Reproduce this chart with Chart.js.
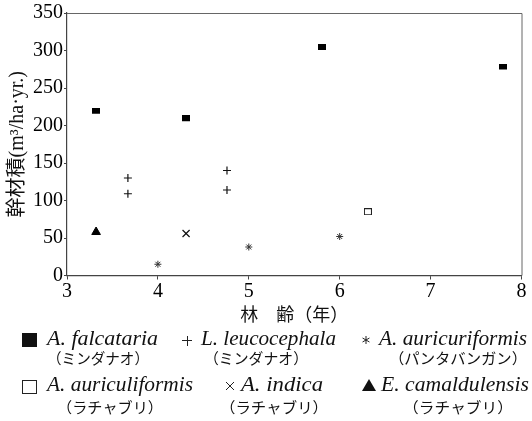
<!DOCTYPE html>
<html><head><meta charset="utf-8">
<script src="https://cdn.jsdelivr.net/npm/chart.js@4/dist/chart.umd.min.js"></script>
<style>html,body{margin:0;padding:0;background:#fff;}canvas{display:block;}</style>
</head><body>
<canvas id="c" width="532" height="421"></canvas>
<script>
// ---- data ----
const xTicks = [3, 4, 5, 6, 7, 8];
const yTicks = [0, 50, 100, 150, 200, 250, 300, 350];
const falcatariaX = [3.32, 4.31, 5.81, 7.80];
const falcatariaY = [219, 209, 304, 278];
const leucocephalaX = [3.67, 3.67, 4.76, 4.76];
const leucocephalaY = [130, 109, 140, 114];
const auricuriformisX = [4.0, 5.0, 6.0];
const auricuriformisY = [15, 38, 52];
const auriculiformisX = [6.31];
const auriculiformisY = [85];
const indicaX = [4.31];
const indicaY = [56];
const camaldulensisX = [3.32];
const camaldulensisY = [58];
const legendLatin = ['A. falcataria', 'L. leucocephala', 'A. auricuriformis', 'A. auriculiformis', 'A. indica', 'E. camaldulensis'];
const legendJa = ['（ミンダナオ）', '（ミンダナオ）', '（パンタバンガン）', '（ラチャブリ）', '（ラチャブリ）', '（ラチャブリ）'];
const xTitle = '林　齢（年）';
const yTitle = '幹材積(m³/ha·yr.)';

function pts(xs, ys) { return xs.map((x, i) => ({x: x, y: ys[i]})); }
function rectImg(filled) {
  const c = document.createElement('canvas'); c.width = 8; c.height = 7;
  const g = c.getContext('2d');
  if (filled) { g.fillStyle = '#000'; g.fillRect(0, 0, 8, 6); }
  else { g.strokeStyle = '#222'; g.lineWidth = 1; g.strokeRect(0.5, 0.5, 7, 6); }
  return c;
}

const SERIF = '"Liberation Serif", "Noto Sans CJK JP", serif';
const JA = '"Noto Sans CJK JP", sans-serif';

function fitText(ctx, text, x, y, w, align) {
  const m = ctx.measureText(text).width;
  const sx = w / m;
  ctx.save();
  ctx.translate(x, y);
  ctx.scale(sx, 1);
  ctx.textAlign = align;
  ctx.fillText(text, 0, 0);
  ctx.restore();
}

const frame = {
  id: 'frame',
  beforeDatasetsDraw(chart) {
    const a = chart.chartArea, ctx = chart.ctx;
    ctx.save(); ctx.strokeStyle = '#666'; ctx.lineWidth = 1;
    ctx.beginPath();
    ctx.moveTo(a.left, a.top + 0.5); ctx.lineTo(a.right + 0.5, a.top + 0.5); ctx.lineTo(a.right + 0.5, a.bottom);
    ctx.stroke(); ctx.restore();
  }
};

const legendPlugin = {
  id: 'customLegend',
  afterDraw(chart) {
    const ctx = chart.ctx;
    ctx.save();
    ctx.fillStyle = '#111'; ctx.strokeStyle = '#222';
    ctx.textBaseline = 'middle';
    // markers
    ctx.fillRect(22, 333, 15, 14);
    ctx.lineWidth = 1; ctx.strokeRect(22.5, 380.5, 14, 13);
    ctx.beginPath(); ctx.moveTo(369, 379); ctx.lineTo(376, 391); ctx.lineTo(362, 391); ctx.closePath(); ctx.fill();
    ctx.lineWidth = 1;
    ctx.beginPath();
    // plus
    ctx.moveTo(182, 340.5); ctx.lineTo(192, 340.5); ctx.moveTo(187.5, 336); ctx.lineTo(187.5, 346);
    // times
    ctx.moveTo(226, 382); ctx.lineTo(234, 390); ctx.moveTo(234, 382); ctx.lineTo(226, 390);
    // asterisk
    const ax = 366, ay = 340;
    for (let k = 0; k < 3; k++) {
      const t = Math.PI / 2 + k * Math.PI / 3;
      ctx.moveTo(ax + 4 * Math.cos(t), ay + 4 * Math.sin(t));
      ctx.lineTo(ax - 4 * Math.cos(t), ay - 4 * Math.sin(t));
    }
    ctx.stroke();
    // latin names
    ctx.font = 'italic 20px ' + SERIF;
    const lx = [47, 201, 379, 47, 241, 381];
    const lw = [111, 135, 148, 146, 82, 148];
    const ly = [340, 340, 340, 386, 386, 386];
    legendLatin.forEach((t, i) => fitText(ctx, t, lx[i], ly[i], lw[i], 'left'));
    ctx.font = '15px ' + JA;
    const jx = [98, 256, 458, 110, 274, 458];
    const jw = [102, 104, 138, 106, 108, 110];
    const jy = [358, 358, 358, 407, 407, 407];
    legendJa.forEach((t, i) => fitText(ctx, t, jx[i], jy[i], jw[i], 'center'));
    ctx.restore();
  }
};

new Chart(document.getElementById('c'), {
  type: 'scatter',
  data: {
    datasets: [
      {label: legendLatin[0], data: pts(falcatariaX, falcatariaY), pointStyle: rectImg(true), pointRadius: 4},
      {label: legendLatin[1], data: pts(leucocephalaX, leucocephalaY), pointStyle: 'cross', pointRadius: 4, borderColor: '#111', borderWidth: 1.2},
      {label: legendLatin[2], data: pts(auricuriformisX, auricuriformisY), pointStyle: 'star', pointRadius: 3.5, borderColor: '#333', borderWidth: 1},
      {label: legendLatin[3], data: pts(auriculiformisX, auriculiformisY), pointStyle: rectImg(false), pointRadius: 4},
      {label: legendLatin[4], data: pts(indicaX, indicaY), pointStyle: 'crossRot', pointRadius: 5, borderColor: '#111', borderWidth: 1.2},
      {label: legendLatin[5], data: pts(camaldulensisX, camaldulensisY), pointStyle: 'triangle', pointRadius: 5, backgroundColor: '#000', borderColor: '#000', borderWidth: 1}
    ]
  },
  options: {
    responsive: false,
    animation: false,
    devicePixelRatio: 1,
    layout: {padding: {left: 0, right: 10.5, top: 13, bottom: 0}},
    plugins: {legend: {display: false}, tooltip: {enabled: false}},
    scales: {
      x: {
        type: 'linear', min: 3, max: 8,
        afterFit(s) { s.height = 145.5; },
        afterBuildTicks(s) { s.ticks = xTicks.map(v => ({value: v})); },
        ticks: {color: '#000', font: {family: SERIF, size: 20}, padding: 0, maxRotation: 0},
        grid: {display: true, drawOnChartArea: false, tickLength: 4, color: '#444'},
        border: {display: true, color: '#444', width: 1.2},
        title: {display: true, text: xTitle, color: '#111', font: {family: JA, size: 18}, padding: {top: 0, bottom: 96}}
      },
      y: {
        type: 'linear', min: 0, max: 350,
        afterFit(s) { s.width = 67; },
        afterBuildTicks(s) { s.ticks = yTicks.map(v => ({value: v})); },
        ticks: {color: '#000', font: {family: SERIF, size: 20}, padding: 1},
        grid: {display: true, drawOnChartArea: false, tickLength: 3, color: '#444'},
        border: {display: true, color: '#444', width: 1.2},
        title: {display: true, text: yTitle, color: '#111', font: {family: SERIF, size: 20}, padding: {top: 6, bottom: 0}}
      }
    }
  },
  plugins: [frame, legendPlugin]
});
</script>
</body></html>
